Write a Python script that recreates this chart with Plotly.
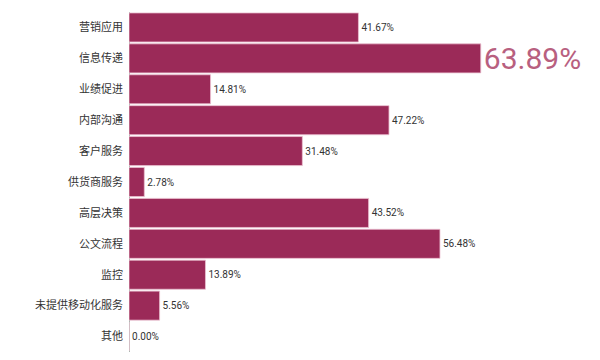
import plotly.graph_objects as go

categories = ["营销应用", "信息传递", "业绩促进", "内部沟通", "客户服务", "供货商服务",
              "高层决策", "公文流程", "监控", "未提供移动化服务", "其他"]
values = [41.67, 63.89, 14.81, 47.22, 31.48, 2.78, 43.52, 56.48, 13.89, 5.56, 0.00]
labels = [f"{v:.2f}%" for v in values]

highlight = values.index(max(values))
text_sizes = [30 if i == highlight else 10 for i in range(len(values))]
text_colors = ["#B8607F" if i == highlight else "#333333" for i in range(len(values))]

fig = go.Figure(go.Bar(
    x=values, y=categories, orientation="h",
    marker=dict(color="#9B2A58", line=dict(color="#EBC0D0", width=0.8)),
    text=labels, textposition="outside", constraintext="none",
    textfont=dict(size=text_sizes, color=text_colors, family="Roboto"),
    cliponaxis=False,
))

fig.update_layout(
    width=592, height=352,
    margin=dict(l=121, r=3, t=4, b=8, autoexpand=False),
    paper_bgcolor="white", plot_bgcolor="white",
    bargap=0.06, showlegend=False,
    font=dict(family="Noto Sans CJK SC", color="#333333"),
    xaxis=dict(range=[0, 85], showgrid=False, showticklabels=False, ticks="",
               zeroline=True, zerolinecolor="#A9BBB2", zerolinewidth=1,
               showline=False, layer="below traces", automargin=False),
    yaxis=dict(autorange="reversed", showgrid=False, ticks="", ticklabelstandoff=5,
               tickfont=dict(size=11, color="#333333", family="Noto Sans CJK SC"),
               showline=False, zeroline=False, automargin=False),
)
fig.write_html("out.html")
